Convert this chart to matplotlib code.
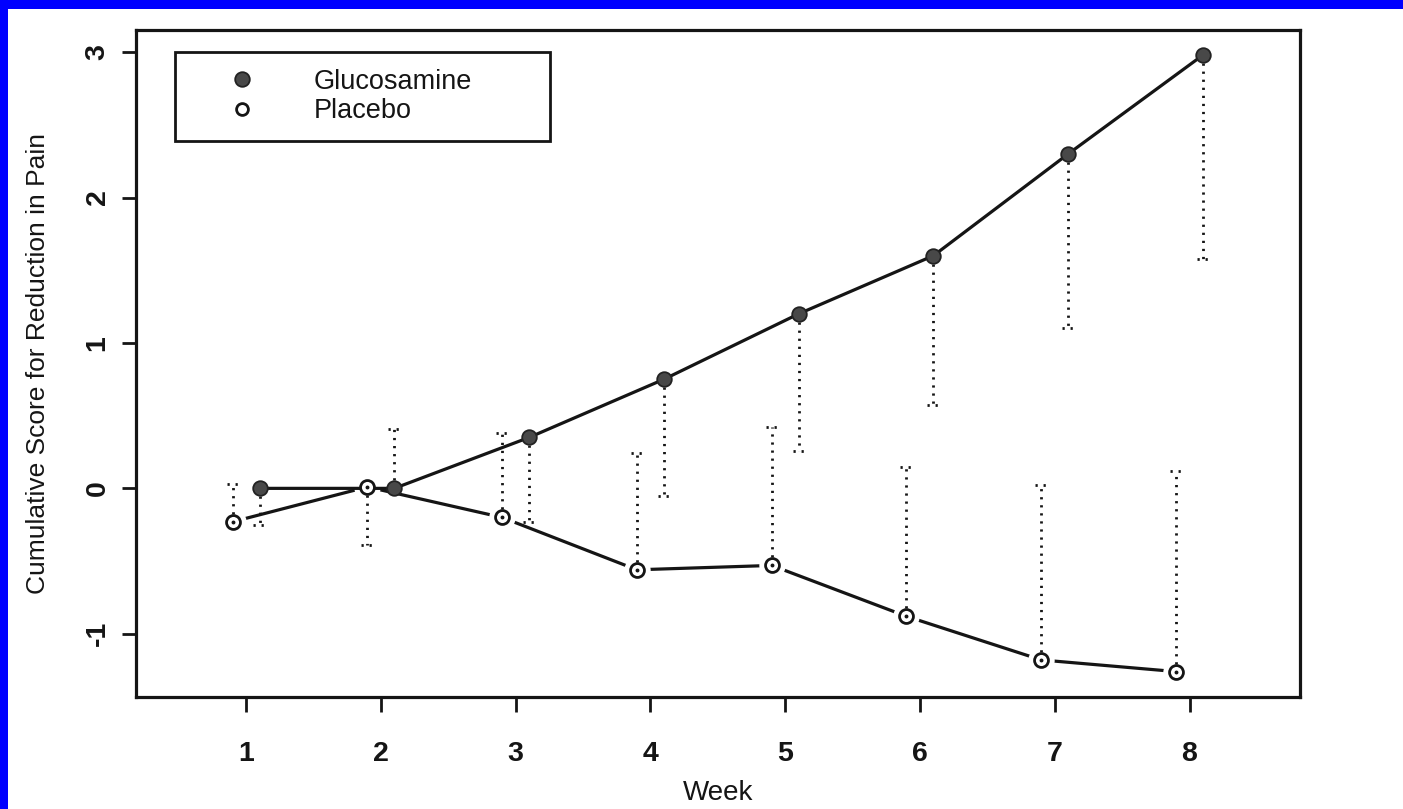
import numpy as np
import matplotlib
matplotlib.use('Agg')
from matplotlib import pyplot as plt
from matplotlib.lines import Line2D
from matplotlib.patches import Rectangle

plt.rcParams['font.family'] = ['Liberation Sans', 'DejaVu Sans']
plt.rcParams['axes.unicode_minus'] = False

# data
weeks = np.array([1, 2, 3, 4, 5, 6, 7, 8])
gluc = np.array([0.0, 0.0, 0.35, 0.75, 1.20, 1.60, 2.30, 2.98])
gluc_bar = np.array([-0.25, 0.41, -0.23, -0.05, 0.26, 0.57, 1.10, 1.58])
plac = np.array([-0.23, 0.01, -0.20, -0.56, -0.53, -0.88, -1.18, -1.26])
plac_bar = np.array([0.03, -0.39, 0.38, 0.24, 0.42, 0.15, 0.02, 0.12])
shift = 0.1

xg = weeks + shift
xp = weeks - shift

fig = plt.figure(figsize=(14.03, 8.09), dpi=100)
fig.patch.set_facecolor('#0000FF')
# white page, blue strip only at left and top
fig.add_artist(Rectangle((8/1403, 0), 1, 1 - 9/809, transform=fig.transFigure,
                         facecolor='white', edgecolor='none', zorder=-1))

ax = fig.add_axes([0.0966, 0.1384, 0.83, 0.8245])
ax.set_xlim(0.18, 8.82)
ax.set_ylim(-1.435, 3.152)

ink = '#151515'
dot = (0, (0.8, 2.1))

# placebo line with gaps round the points (R type="b")
ax.plot(xp, plac, color=ink, lw=2.3, zorder=1)
ax.plot(xp, plac, ls='none', marker='o', ms=19, mfc='white', mec='none', zorder=2)
ax.plot(xg, gluc, color=ink, lw=2.3, zorder=3)

# one sided dotted bars with small caps
ax.vlines(xg, gluc, gluc_bar, colors=ink, lw=2.0, linestyles=dot, zorder=3)
ax.vlines(xp, plac, plac_bar, colors=ink, lw=2.0, linestyles=dot, zorder=3)
ax.hlines(gluc_bar, xg - 0.045, xg + 0.045, colors=ink, lw=2.0, linestyles=dot, zorder=3)
ax.hlines(plac_bar, xp - 0.045, xp + 0.045, colors=ink, lw=2.0, linestyles=dot, zorder=3)

ax.plot(xg, gluc, ls='none', marker='o', ms=10.5, mfc='#484848', mec='#222222', mew=1.3, zorder=4)
ax.plot(xp, plac, ls='none', marker='o', ms=10, mfc='white', mec=ink, mew=2.0, zorder=4)
ax.plot(xp, plac, ls='none', marker='o', ms=1.8, mfc=ink, mec=ink, zorder=5)

ax.set_xticks(weeks)
ax.set_yticks([-1, 0, 1, 2, 3])
ax.tick_params(axis='x', length=11, width=2, pad=21, labelsize=20.5, colors=ink)
ax.tick_params(axis='y', length=10, width=2, pad=8, labelsize=20.5, colors=ink)
for lab in ax.get_xticklabels() + ax.get_yticklabels():
    lab.set_fontweight('bold')
for lab in ax.get_yticklabels():
    lab.set_rotation(90)
    lab.set_va('center')
for sp in ax.spines.values():
    sp.set_linewidth(2.3)
    sp.set_color(ink)

ax.set_xlabel('Week', fontsize=20, color=ink)
ax.xaxis.set_label_coords(0.5, -0.144)
ax.xaxis.label.set_va('center')
ax.set_ylabel('Cumulative Score for Reduction in Pain', fontsize=19, color=ink)
ax.yaxis.set_label_coords(-0.0837, 0.5)
ax.yaxis.label.set_va('center')

handles = [Line2D([], [], ls='none', marker='o', ms=10.5, mfc='#484848', mec='#222222', mew=1.3),
           Line2D([], [], ls='none', marker='o', ms=8.5, mfc='white', mec=ink, mew=2.0)]
leg = ax.legend(handles, ['Glucosamine', 'Placebo'], loc='upper left',
                bbox_to_anchor=(0.034, 0.957, 0.322, 0.01), mode='expand',
                borderaxespad=0, fancybox=False, framealpha=1, fontsize=19.5,
                handlelength=3.7, handletextpad=0.8, labelspacing=0.12, borderpad=0.62)
leg.get_frame().set_edgecolor(ink)
leg.get_frame().set_linewidth(2.0)
for t in leg.get_texts():
    t.set_color(ink)

plt.savefig('out.png', dpi=100, facecolor=fig.get_facecolor())
